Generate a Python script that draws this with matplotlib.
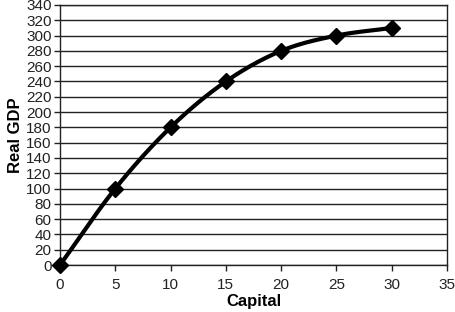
import matplotlib
matplotlib.use("Agg")
import matplotlib.pyplot as plt
import numpy as np

plt.rcParams['font.family'] = ['Liberation Sans', 'DejaVu Sans']

capital = [0, 5, 10, 15, 20, 25, 30]
real_gdp = [0, 100, 180, 240, 280, 300, 310]
x_ticks = list(range(0, 40, 5))
y_ticks = list(range(0, 360, 20))


def smooth_line(xs, ys, n=30):
    # Catmull-Rom style smoothing (like a spreadsheet "smoothed line")
    xs = np.asarray(xs, float)
    ys = np.asarray(ys, float)
    px = np.concatenate([[2 * xs[0] - xs[1]], xs, [2 * xs[-1] - xs[-2]]])
    py = np.concatenate([[2 * ys[0] - ys[1]], ys, [2 * ys[-1] - ys[-2]]])
    outx, outy = [], []
    t = np.linspace(0, 1, n)
    for i in range(1, len(px) - 2):
        for p, out in ((px, outx), (py, outy)):
            p0, p1, p2, p3 = p[i - 1], p[i], p[i + 1], p[i + 2]
            m1 = (p2 - p0) / 2
            m2 = (p3 - p1) / 2
            h00 = 2 * t**3 - 3 * t**2 + 1
            h10 = t**3 - 2 * t**2 + t
            h01 = -2 * t**3 + 3 * t**2
            h11 = t**3 - t**2
            out.extend(h00 * p1 + h10 * m1 + h01 * p2 + h11 * m2)
    return np.array(outx), np.array(outy)


fig = plt.figure(figsize=(4.56, 3.12), dpi=100)
ax = fig.add_axes([0.1316, 0.1506, 0.8487, 0.8334])

sx, sy = smooth_line(capital, real_gdp)
ax.plot(sx, sy, color='black', lw=3.0, solid_capstyle='round', zorder=3)
ax.plot(capital, real_gdp, linestyle='none', marker='D', ms=8,
        color='black', zorder=4, clip_on=False)

ax.set_xlim(0, 35)
ax.set_ylim(0, 340)
ax.set_xticks(x_ticks)
ax.set_yticks(y_ticks)
ax.yaxis.grid(True, color='#222222', lw=1.0)
ax.set_axisbelow(True)
for s in ax.spines.values():
    s.set_color('#222222')
    s.set_linewidth(1.0)
ax.tick_params(axis='both', labelsize=11, length=4, width=1.0,
               direction='out', colors='#222222')
ax.tick_params(axis='x', pad=5)
ax.tick_params(axis='y', pad=2)

ax.set_xlabel('Capital', fontsize=12, fontweight='bold', labelpad=2)
ax.set_ylabel('Real GDP', fontsize=12, fontweight='bold', labelpad=2)

fig.savefig('out.png', dpi=100)
